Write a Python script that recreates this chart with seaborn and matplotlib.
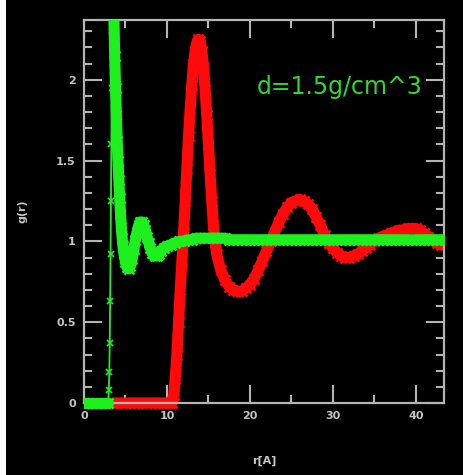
import matplotlib
matplotlib.use("Agg")
import matplotlib.pyplot as plt
import seaborn as sns
from matplotlib.ticker import MultipleLocator, FuncFormatter
from matplotlib.patches import Rectangle
from matplotlib.transforms import Bbox, TransformedBbox

# ---------------- data ----------------
r_green = [0.0, 0.5, 1.0, 1.5, 2.0, 2.5, 2.9, 3.0, 3.05, 3.1, 3.15, 3.2, 3.25,
           3.3, 3.35, 3.4, 3.45, 3.5, 3.6, 3.7, 3.8, 3.9, 4.0, 4.1, 4.2, 4.3,
           4.4, 4.5, 4.6, 4.7, 4.8, 4.9, 5.0, 5.2, 5.4, 5.6, 5.8, 6.0, 6.2,
           6.4, 6.6, 6.8, 7.0, 7.2, 7.4, 7.6, 7.8, 8.0, 8.2, 8.4, 8.6, 8.8,
           9.0, 9.3, 9.6, 10.0, 10.5, 11.0, 11.5, 12.0, 12.5, 13.0, 13.5,
           14.0, 14.5, 15.0, 15.5, 16.0, 16.5, 17.0, 17.5, 18.0, 18.5, 19.0,
           19.5, 20.0, 20.5, 21.0, 21.5, 22.0, 22.5, 23.0, 23.5, 24.0, 24.5,
           25.0, 25.5, 26.0, 26.5, 27.0, 27.5, 28.0, 28.5, 29.0, 29.5, 30.0,
           30.5, 31.0, 31.5, 32.0, 32.5, 33.0, 33.5, 34.0, 34.5, 35.0, 35.5,
           36.0, 36.5, 37.0, 37.5, 38.0, 38.5, 39.0, 39.5, 40.0, 40.5, 41.0,
           41.5, 42.0, 42.5, 43.0, 43.5]
g_green = [0.0, 0.0, 0.0, 0.0, 0.0, 0.0, 0.0, 0.08, 0.19, 0.37, 0.63, 0.92, 1.25,
           1.6, 1.95, 2.3, 2.7, 2.9, 2.4, 2.15, 1.95, 1.78, 1.62, 1.5, 1.38, 1.27,
           1.17, 1.09, 1.02, 0.97, 0.93, 0.9, 0.87, 0.84, 0.83, 0.85, 0.89, 0.95, 1.01,
           1.06, 1.1, 1.12, 1.12, 1.1, 1.07, 1.03, 0.99, 0.96, 0.93, 0.92, 0.91, 0.91,
           0.92, 0.94, 0.96, 0.97, 0.98, 0.99, 1.0, 1.0, 1.01, 1.01, 1.02,
           1.02, 1.02, 1.02, 1.02, 1.02, 1.02, 1.02, 1.01, 1.01, 1.01, 1.01,
           1.01, 1.01, 1.01, 1.01, 1.01, 1.01, 1.01, 1.01, 1.01, 1.01, 1.01,
           1.01, 1.01, 1.01, 1.01, 1.01, 1.01, 1.01, 1.01, 1.01, 1.01, 1.01,
           1.01, 1.01, 1.01, 1.01, 1.01, 1.01, 1.01, 1.01, 1.01, 1.01, 1.01,
           1.01, 1.01, 1.01, 1.01, 1.01, 1.01, 1.01, 1.01, 1.01, 1.01, 1.01,
           1.01, 1.01, 1.01, 1.01, 1.01]
# the sparse, steep first rise of the green curve (drawn thin in the original)
green_rise = (7, 17)

r_red = [3.6, 4.0, 4.5, 5.0, 5.5, 6.0, 6.5, 7.0, 7.5, 8.0, 8.5, 9.0, 9.5, 10.0,
         10.4, 10.6, 10.8, 11.0, 11.2, 11.4, 11.6, 11.8, 12.0, 12.2, 12.4, 12.6,
         12.8, 13.0, 13.2, 13.4, 13.6, 13.8, 14.0, 14.2, 14.4, 14.6, 14.8, 15.0,
         15.2, 15.4, 15.6, 15.8, 16.0, 16.5, 17.0, 17.5, 18.0, 18.5, 19.0, 19.5,
         20.0, 20.5, 21.0, 21.5, 22.0, 22.5, 23.0, 23.5, 24.0, 24.5, 25.0, 25.5,
         26.0, 26.5, 27.0, 27.5, 28.0, 28.5, 29.0, 29.5, 30.0, 30.5, 31.0, 31.5,
         32.0, 32.5, 33.0, 33.5, 34.0, 34.5, 35.0, 35.5, 36.0, 36.5, 37.0, 37.5,
         38.0, 38.5, 39.0, 39.5, 40.0, 40.5, 41.0, 41.5, 42.0, 42.5, 43.0, 43.5]
g_red = [0.0, 0.0, 0.0, 0.0, 0.0, 0.0, 0.0, 0.0, 0.0, 0.0, 0.0, 0.0, 0.0, 0.0,
         0.0, 0.0, 0.05, 0.15, 0.3, 0.5, 0.7, 0.88, 1.05, 1.25, 1.45, 1.65,
         1.82, 1.97, 2.1, 2.18, 2.23, 2.25, 2.24, 2.18, 2.08, 1.94, 1.78, 1.6,
         1.42, 1.25, 1.1, 1.0, 0.92, 0.82, 0.76, 0.72, 0.70, 0.69, 0.69, 0.71,
         0.73, 0.77, 0.82, 0.88, 0.94, 1.0, 1.06, 1.12, 1.17, 1.21, 1.24, 1.25,
         1.26, 1.25, 1.23, 1.2, 1.15, 1.1, 1.04, 0.99, 0.96, 0.93, 0.91, 0.9,
         0.9, 0.91, 0.92, 0.94, 0.96, 0.98, 1.0, 1.02, 1.03, 1.04, 1.05, 1.06,
         1.07, 1.07, 1.08, 1.08, 1.08, 1.07, 1.05, 1.03, 1.01, 0.99, 0.98, 0.98]

x_ticks = [0, 10, 20, 30, 40]
y_ticks = [0, 0.5, 1, 1.5, 2]
label_text = "d=1.5g/cm^3"

# ---------------- styling ----------------
sns.set_theme(style="ticks")
RED = "#FF0A0A"
GREEN = "#1EF01E"
AXCOL = "#B4B4B4"
TXTCOL = "#C4C4C4"

fig = plt.figure(figsize=(4.64, 4.75), dpi=100, facecolor="black")
ax = fig.add_axes([84 / 464, 72 / 475, 360 / 464, 383 / 475])
ax.set_facecolor("black")

thick = dict(marker="x", markersize=7, markeredgewidth=1.8, linewidth=8,
             sort=False)
thin = dict(marker="x", markersize=5, markeredgewidth=1.2, linewidth=1.3,
            sort=False)

sns.lineplot(x=r_red, y=g_red, ax=ax, color=RED, markeredgecolor=RED,
             zorder=2, **thick)
# green: thin line through everything, thick band except on the steep rise
sns.lineplot(x=r_green, y=g_green, ax=ax, color=GREEN, markeredgecolor=GREEN,
             zorder=3, **thin)
a, b = green_rise
sns.lineplot(x=r_green[:a], y=g_green[:a], ax=ax, color=GREEN,
             markeredgecolor=GREEN, zorder=3, **thick)
sns.lineplot(x=r_green[b:], y=g_green[b:], ax=ax, color=GREEN,
             markeredgecolor=GREEN, zorder=3, **thick)

# let the bands at g=0 spill slightly below the axis line, as in the original
clip = TransformedBbox(Bbox([[0, -0.02], [1, 1]]), ax.transAxes)
for ln in ax.lines:
    ln.set_clip_box(clip)

ax.set_xlim(0, 43.4)
ax.set_ylim(0, 2.37)
ax.xaxis.set_minor_locator(MultipleLocator(5))
ax.yaxis.set_minor_locator(MultipleLocator(0.1))
ax.set_xticks(x_ticks)
ax.set_yticks(y_ticks)
fmt = FuncFormatter(lambda v, p: f"{v:g}")
ax.xaxis.set_major_formatter(fmt)
ax.yaxis.set_major_formatter(fmt)

for s in ax.spines.values():
    s.set_color(AXCOL)
    s.set_linewidth(1.6)
    s.set_visible(True)

ax.tick_params(which="both", direction="in", top=True, right=True,
               color=AXCOL, width=1.5, labelcolor=TXTCOL)
ax.tick_params(which="major", length=13, pad=6)
ax.tick_params(which="minor", length=6)
for lab in ax.get_xticklabels() + ax.get_yticklabels():
    lab.set_fontsize(8)
    lab.set_fontweight("bold")

ax.set_xlabel("r[A]", color=TXTCOL, fontsize=8, fontweight="bold")
ax.set_ylabel("g(r)", color=TXTCOL, fontsize=8, fontweight="bold")
ax.xaxis.set_label_coords(0.5, -0.138)
ax.yaxis.set_label_coords(-0.158, 0.5)

ax.text(0.48, 0.825, label_text, transform=ax.transAxes, color="#2FD82F",
        fontsize=17, ha="left", va="center")

fig.patches.append(Rectangle((0, 0), 6 / 464, 1, transform=fig.transFigure,
                             facecolor="white", edgecolor="none"))

fig.savefig("out.png", dpi=100, facecolor="black")
